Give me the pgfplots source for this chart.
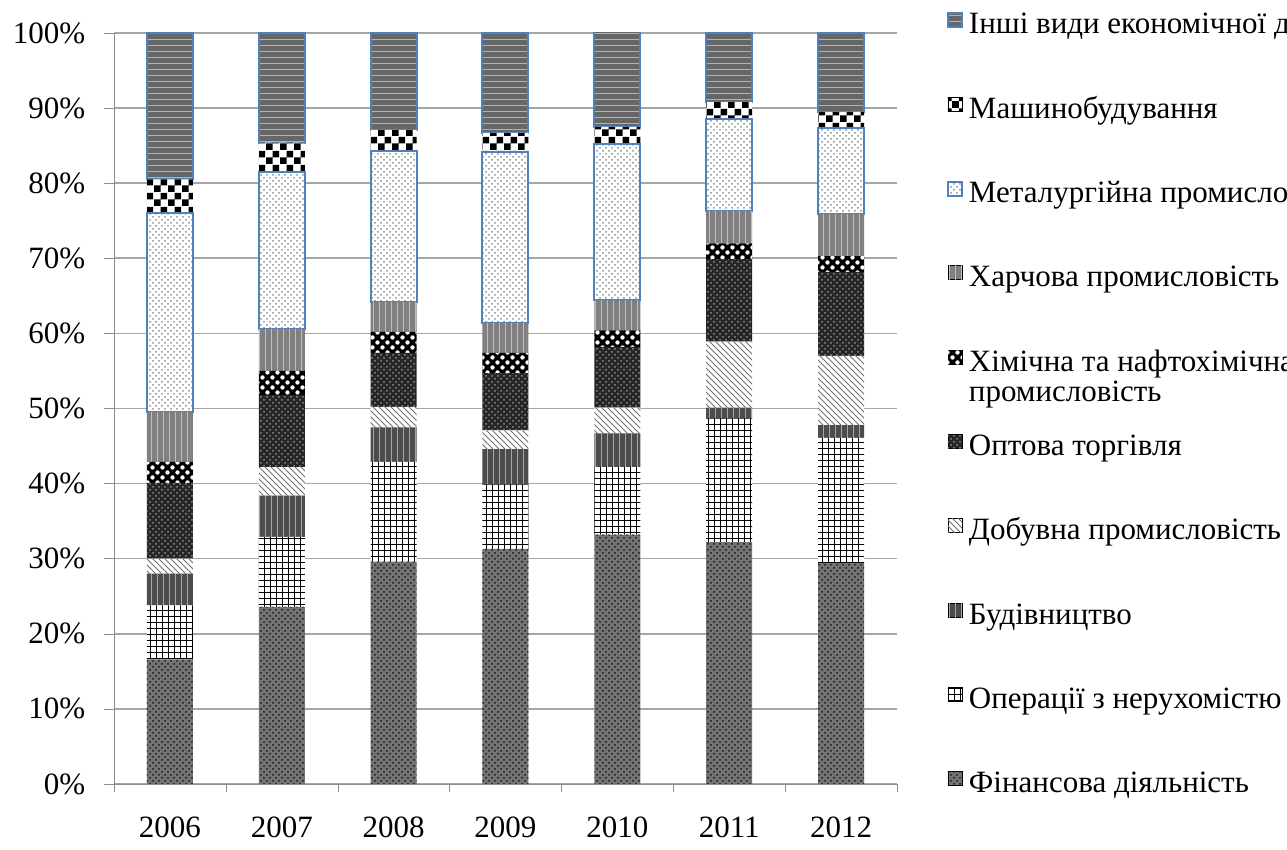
\documentclass[border=0pt]{standalone}
\usepackage{fontspec}
\setmainfont{Liberation Serif}
\usepackage{pgfplots}
\usepackage{pgfplotstable}
\pgfplotsset{compat=1.18}
\usetikzlibrary{patterns}
\definecolor{xlblue}{RGB}{79,129,189}

\pgfdeclarepatternformonly{smallchecker}{\pgfqpoint{0pt}{0pt}}{\pgfqpoint{7pt}{7pt}}{\pgfqpoint{7pt}{7pt}}{%
  \pgfpathrectangle{\pgfqpoint{0pt}{0pt}}{\pgfqpoint{3.5pt}{3.5pt}}%
  \pgfpathrectangle{\pgfqpoint{3.5pt}{3.5pt}}{\pgfqpoint{3.5pt}{3.5pt}}%
  \pgfusepath{fill}}
\pgfdeclarepatternformonly{bigdots}{\pgfqpoint{-1pt}{-1pt}}{\pgfqpoint{6pt}{6pt}}{\pgfqpoint{5pt}{5pt}}{%
  \pgfpathcircle{\pgfqpoint{1.25pt}{1.25pt}}{1.1pt}%
  \pgfpathcircle{\pgfqpoint{3.75pt}{3.75pt}}{1.1pt}%
  \pgfusepath{fill}}

\pgfplotstableread{
x fin re con min who che foo met mac oth
0 16.6 7.2 4.2 2.0 10.1 2.8 6.6 26.5 4.5 19.5
1 23.6 9.3 5.5 3.8 9.6 3.2 5.6 20.9 3.9 14.6
2 29.6 13.3 4.6 2.7 7.2 2.8 4.0 20.1 2.8 12.9
3 31.3 8.6 4.7 2.5 7.6 2.7 4.0 22.8 2.5 13.3
4 33.2 9.0 4.5 3.4 8.1 2.2 4.0 20.8 2.3 12.7
5 32.2 16.5 1.4 8.8 11.0 2.1 4.3 12.2 2.3 9.2
6 29.4 16.7 1.7 9.2 11.2 2.1 5.6 11.4 2.2 10.5
}\data

\begin{document}
\fontsize{15.5}{15}\selectfont
\begin{tikzpicture}
\useasboundingbox (0,0) rectangle (643.5pt,425pt);
\begin{axis}[
  at={(57pt,33pt)}, anchor=south west,
  scale only axis, width=391.5pt, height=375.5pt,
  ybar stacked, bar width=23pt,
  xmin=-0.5, xmax=6.5, ymin=0, ymax=100,
  xtick={0,...,6},
  xticklabels={2006,2007,2008,2009,2010,2011,2012},
  minor xtick={-0.5,0.5,...,6.5},
  ytick={0,10,...,100},
  yticklabels={0\%,10\%,20\%,30\%,40\%,50\%,60\%,70\%,80\%,90\%,100\%},
  tick align=outside,
  major x tick style={draw=none},
  minor tick length=4pt, major tick length=5pt,
  tick style={black!45},
  axis x line*=bottom, axis y line*=left,
  axis line style={black!45,-},
  ymajorgrids, grid style={black!35, line width=0.8pt},
  tick label style={font=\fontsize{15.5}{15}\selectfont},
  xticklabel style={yshift=-10pt, inner sep=1pt},
  yticklabel style={xshift=-4pt},
  legend cell align=left,
  reverse legend,
  legend image code/.code={\draw[#1] (0pt,0pt) rectangle (7pt,7pt);},
  legend style={at={(rel axis cs:1,1)}, anchor=north west, xshift=25pt, yshift=10.5pt,
    draw=none, fill=none, inner sep=0pt, outer sep=0pt,
    font=\fontsize{15.5}{15}\selectfont,
    nodes={inner sep=0pt, text height=11pt, text depth=4pt},
    row sep=27.15pt, column sep=3pt},
]
\addplot[draw=none, fill=black!55, postaction={pattern=crosshatch dots, pattern color=black!90}] table[x=x,y=fin]{\data};
\addlegendentry{Фінансова діяльність}
\addplot[draw=none, fill=white, postaction={pattern=grid, pattern color=black}] table[x=x,y=re]{\data};
\addlegendentry{Операції з нерухомістю}
\addplot[draw=none, fill=black!70, postaction={pattern=vertical lines, pattern color=black!35}] table[x=x,y=con]{\data};
\addlegendentry{Будівництво}
\addplot[draw=none, fill=white, postaction={pattern=north west lines, pattern color=black!55}] table[x=x,y=min]{\data};
\addlegendentry{Добувна промисловість}
\addplot[draw=none, fill=black!85, postaction={pattern=crosshatch dots, pattern color=black!45}] table[x=x,y=who]{\data};
\addlegendentry{Оптова торгівля}
\addplot[draw=none, fill=black, postaction={pattern=bigdots, pattern color=white}] table[x=x,y=che]{\data};
\addlegendentry{{\smash{\begin{tabular}[t]{@{}l@{}}Хімічна та нафтохімічна\\промисловість\end{tabular}}}}
\addplot[draw=none, fill=black!50, postaction={pattern=vertical lines, pattern color=black!25}] table[x=x,y=foo]{\data};
\addlegendentry{Харчова промисловість}
\addplot[draw=xlblue, line width=1pt, fill=white, postaction={pattern=crosshatch dots, pattern color=black!45}] table[x=x,y=met]{\data};
\addlegendentry{Металургійна промисловість}
\addplot[draw=none, fill=white, postaction={pattern=smallchecker, pattern color=black}] table[x=x,y=mac]{\data};
\addlegendentry{Машинобудування}
\addplot[draw=xlblue, line width=1pt, fill=black!60, postaction={pattern=horizontal lines, pattern color=black!30}] table[x=x,y=oth]{\data};
\addlegendentry{Інші види економічної діяльності}
\end{axis}
\end{tikzpicture}
\end{document}
